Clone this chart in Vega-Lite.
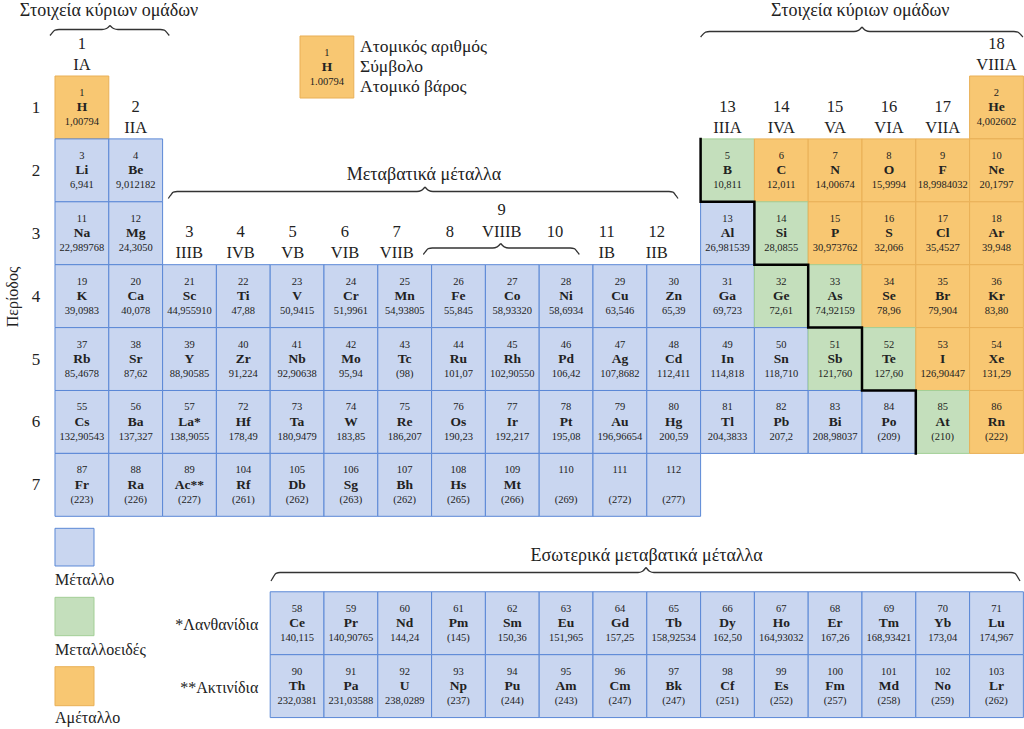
{
  "$schema": "https://vega.github.io/schema/vega-lite/v6.json",
  "width": 1024,
  "height": 729,
  "autosize": {"type": "none"},
  "padding": 0,
  "background": "white",
  "config": {"view": {"stroke": null}, "font": "Liberation Serif, DejaVu Serif, serif", "mark": {"font": "Liberation Serif, DejaVu Serif, serif"}, "text": {"font": "Liberation Serif, DejaVu Serif, serif", "color": "#222222"}},
  "datasets": {
    "elements": [
      {"n":1,"s":"H","w":"1,00794","col":1,"row":1,"cat":"nonmetal"},
      {"n":2,"s":"He","w":"4,002602","col":18,"row":1,"cat":"nonmetal"},
      {"n":3,"s":"Li","w":"6,941","col":1,"row":2,"cat":"metal"},
      {"n":4,"s":"Be","w":"9,012182","col":2,"row":2,"cat":"metal"},
      {"n":5,"s":"B","w":"10,811","col":13,"row":2,"cat":"metalloid"},
      {"n":6,"s":"C","w":"12,011","col":14,"row":2,"cat":"nonmetal"},
      {"n":7,"s":"N","w":"14,00674","col":15,"row":2,"cat":"nonmetal"},
      {"n":8,"s":"O","w":"15,9994","col":16,"row":2,"cat":"nonmetal"},
      {"n":9,"s":"F","w":"18,9984032","col":17,"row":2,"cat":"nonmetal"},
      {"n":10,"s":"Ne","w":"20,1797","col":18,"row":2,"cat":"nonmetal"},
      {"n":11,"s":"Na","w":"22,989768","col":1,"row":3,"cat":"metal"},
      {"n":12,"s":"Mg","w":"24,3050","col":2,"row":3,"cat":"metal"},
      {"n":13,"s":"Al","w":"26,981539","col":13,"row":3,"cat":"metal"},
      {"n":14,"s":"Si","w":"28,0855","col":14,"row":3,"cat":"metalloid"},
      {"n":15,"s":"P","w":"30,973762","col":15,"row":3,"cat":"nonmetal"},
      {"n":16,"s":"S","w":"32,066","col":16,"row":3,"cat":"nonmetal"},
      {"n":17,"s":"Cl","w":"35,4527","col":17,"row":3,"cat":"nonmetal"},
      {"n":18,"s":"Ar","w":"39,948","col":18,"row":3,"cat":"nonmetal"},
      {"n":19,"s":"K","w":"39,0983","col":1,"row":4,"cat":"metal"},
      {"n":20,"s":"Ca","w":"40,078","col":2,"row":4,"cat":"metal"},
      {"n":21,"s":"Sc","w":"44,955910","col":3,"row":4,"cat":"metal"},
      {"n":22,"s":"Ti","w":"47,88","col":4,"row":4,"cat":"metal"},
      {"n":23,"s":"V","w":"50,9415","col":5,"row":4,"cat":"metal"},
      {"n":24,"s":"Cr","w":"51,9961","col":6,"row":4,"cat":"metal"},
      {"n":25,"s":"Mn","w":"54,93805","col":7,"row":4,"cat":"metal"},
      {"n":26,"s":"Fe","w":"55,845","col":8,"row":4,"cat":"metal"},
      {"n":27,"s":"Co","w":"58,93320","col":9,"row":4,"cat":"metal"},
      {"n":28,"s":"Ni","w":"58,6934","col":10,"row":4,"cat":"metal"},
      {"n":29,"s":"Cu","w":"63,546","col":11,"row":4,"cat":"metal"},
      {"n":30,"s":"Zn","w":"65,39","col":12,"row":4,"cat":"metal"},
      {"n":31,"s":"Ga","w":"69,723","col":13,"row":4,"cat":"metal"},
      {"n":32,"s":"Ge","w":"72,61","col":14,"row":4,"cat":"metalloid"},
      {"n":33,"s":"As","w":"74,92159","col":15,"row":4,"cat":"metalloid"},
      {"n":34,"s":"Se","w":"78,96","col":16,"row":4,"cat":"nonmetal"},
      {"n":35,"s":"Br","w":"79,904","col":17,"row":4,"cat":"nonmetal"},
      {"n":36,"s":"Kr","w":"83,80","col":18,"row":4,"cat":"nonmetal"},
      {"n":37,"s":"Rb","w":"85,4678","col":1,"row":5,"cat":"metal"},
      {"n":38,"s":"Sr","w":"87,62","col":2,"row":5,"cat":"metal"},
      {"n":39,"s":"Y","w":"88,90585","col":3,"row":5,"cat":"metal"},
      {"n":40,"s":"Zr","w":"91,224","col":4,"row":5,"cat":"metal"},
      {"n":41,"s":"Nb","w":"92,90638","col":5,"row":5,"cat":"metal"},
      {"n":42,"s":"Mo","w":"95,94","col":6,"row":5,"cat":"metal"},
      {"n":43,"s":"Tc","w":"(98)","col":7,"row":5,"cat":"metal"},
      {"n":44,"s":"Ru","w":"101,07","col":8,"row":5,"cat":"metal"},
      {"n":45,"s":"Rh","w":"102,90550","col":9,"row":5,"cat":"metal"},
      {"n":46,"s":"Pd","w":"106,42","col":10,"row":5,"cat":"metal"},
      {"n":47,"s":"Ag","w":"107,8682","col":11,"row":5,"cat":"metal"},
      {"n":48,"s":"Cd","w":"112,411","col":12,"row":5,"cat":"metal"},
      {"n":49,"s":"In","w":"114,818","col":13,"row":5,"cat":"metal"},
      {"n":50,"s":"Sn","w":"118,710","col":14,"row":5,"cat":"metal"},
      {"n":51,"s":"Sb","w":"121,760","col":15,"row":5,"cat":"metalloid"},
      {"n":52,"s":"Te","w":"127,60","col":16,"row":5,"cat":"metalloid"},
      {"n":53,"s":"I","w":"126,90447","col":17,"row":5,"cat":"nonmetal"},
      {"n":54,"s":"Xe","w":"131,29","col":18,"row":5,"cat":"nonmetal"},
      {"n":55,"s":"Cs","w":"132,90543","col":1,"row":6,"cat":"metal"},
      {"n":56,"s":"Ba","w":"137,327","col":2,"row":6,"cat":"metal"},
      {"n":57,"s":"La*","w":"138,9055","col":3,"row":6,"cat":"metal"},
      {"n":72,"s":"Hf","w":"178,49","col":4,"row":6,"cat":"metal"},
      {"n":73,"s":"Ta","w":"180,9479","col":5,"row":6,"cat":"metal"},
      {"n":74,"s":"W","w":"183,85","col":6,"row":6,"cat":"metal"},
      {"n":75,"s":"Re","w":"186,207","col":7,"row":6,"cat":"metal"},
      {"n":76,"s":"Os","w":"190,23","col":8,"row":6,"cat":"metal"},
      {"n":77,"s":"Ir","w":"192,217","col":9,"row":6,"cat":"metal"},
      {"n":78,"s":"Pt","w":"195,08","col":10,"row":6,"cat":"metal"},
      {"n":79,"s":"Au","w":"196,96654","col":11,"row":6,"cat":"metal"},
      {"n":80,"s":"Hg","w":"200,59","col":12,"row":6,"cat":"metal"},
      {"n":81,"s":"Tl","w":"204,3833","col":13,"row":6,"cat":"metal"},
      {"n":82,"s":"Pb","w":"207,2","col":14,"row":6,"cat":"metal"},
      {"n":83,"s":"Bi","w":"208,98037","col":15,"row":6,"cat":"metal"},
      {"n":84,"s":"Po","w":"(209)","col":16,"row":6,"cat":"metal"},
      {"n":85,"s":"At","w":"(210)","col":17,"row":6,"cat":"metalloid"},
      {"n":86,"s":"Rn","w":"(222)","col":18,"row":6,"cat":"nonmetal"},
      {"n":87,"s":"Fr","w":"(223)","col":1,"row":7,"cat":"metal"},
      {"n":88,"s":"Ra","w":"(226)","col":2,"row":7,"cat":"metal"},
      {"n":89,"s":"Ac**","w":"(227)","col":3,"row":7,"cat":"metal"},
      {"n":104,"s":"Rf","w":"(261)","col":4,"row":7,"cat":"metal"},
      {"n":105,"s":"Db","w":"(262)","col":5,"row":7,"cat":"metal"},
      {"n":106,"s":"Sg","w":"(263)","col":6,"row":7,"cat":"metal"},
      {"n":107,"s":"Bh","w":"(262)","col":7,"row":7,"cat":"metal"},
      {"n":108,"s":"Hs","w":"(265)","col":8,"row":7,"cat":"metal"},
      {"n":109,"s":"Mt","w":"(266)","col":9,"row":7,"cat":"metal"},
      {"n":110,"s":"","w":"(269)","col":10,"row":7,"cat":"metal"},
      {"n":111,"s":"","w":"(272)","col":11,"row":7,"cat":"metal"},
      {"n":112,"s":"","w":"(277)","col":12,"row":7,"cat":"metal"},
      {"n":58,"s":"Ce","w":"140,115","col":5,"row":8,"cat":"metal"},
      {"n":59,"s":"Pr","w":"140,90765","col":6,"row":8,"cat":"metal"},
      {"n":60,"s":"Nd","w":"144,24","col":7,"row":8,"cat":"metal"},
      {"n":61,"s":"Pm","w":"(145)","col":8,"row":8,"cat":"metal"},
      {"n":62,"s":"Sm","w":"150,36","col":9,"row":8,"cat":"metal"},
      {"n":63,"s":"Eu","w":"151,965","col":10,"row":8,"cat":"metal"},
      {"n":64,"s":"Gd","w":"157,25","col":11,"row":8,"cat":"metal"},
      {"n":65,"s":"Tb","w":"158,92534","col":12,"row":8,"cat":"metal"},
      {"n":66,"s":"Dy","w":"162,50","col":13,"row":8,"cat":"metal"},
      {"n":67,"s":"Ho","w":"164,93032","col":14,"row":8,"cat":"metal"},
      {"n":68,"s":"Er","w":"167,26","col":15,"row":8,"cat":"metal"},
      {"n":69,"s":"Tm","w":"168,93421","col":16,"row":8,"cat":"metal"},
      {"n":70,"s":"Yb","w":"173,04","col":17,"row":8,"cat":"metal"},
      {"n":71,"s":"Lu","w":"174,967","col":18,"row":8,"cat":"metal"},
      {"n":90,"s":"Th","w":"232,0381","col":5,"row":9,"cat":"metal"},
      {"n":91,"s":"Pa","w":"231,03588","col":6,"row":9,"cat":"metal"},
      {"n":92,"s":"U","w":"238,0289","col":7,"row":9,"cat":"metal"},
      {"n":93,"s":"Np","w":"(237)","col":8,"row":9,"cat":"metal"},
      {"n":94,"s":"Pu","w":"(244)","col":9,"row":9,"cat":"metal"},
      {"n":95,"s":"Am","w":"(243)","col":10,"row":9,"cat":"metal"},
      {"n":96,"s":"Cm","w":"(247)","col":11,"row":9,"cat":"metal"},
      {"n":97,"s":"Bk","w":"(247)","col":12,"row":9,"cat":"metal"},
      {"n":98,"s":"Cf","w":"(251)","col":13,"row":9,"cat":"metal"},
      {"n":99,"s":"Es","w":"(252)","col":14,"row":9,"cat":"metal"},
      {"n":100,"s":"Fm","w":"(257)","col":15,"row":9,"cat":"metal"},
      {"n":101,"s":"Md","w":"(258)","col":16,"row":9,"cat":"metal"},
      {"n":102,"s":"No","w":"(259)","col":17,"row":9,"cat":"metal"},
      {"n":103,"s":"Lr","w":"(262)","col":18,"row":9,"cat":"metal"}
    ],
    "key": [
      {"n":1,"s":"H","w":"1.00794","col":5.554,"row":0.357,"cat":"nonmetal"}
    ],
    "legendboxes": [
      {"cat":"metal","x0":0.5,"x1":1.225,"y0":7.691,"y1":8.29},
      {"cat":"metalloid","x0":0.5,"x1":1.225,"y0":8.788,"y1":9.398},
      {"cat":"nonmetal","x0":0.5,"x1":1.225,"y0":9.891,"y1":10.511}
    ],
    "stair": [
      {"i":0,"x":12.5,"y":1.5},{"i":1,"x":12.5,"y":2.5},{"i":2,"x":13.5,"y":2.5},{"i":3,"x":13.5,"y":3.5},
      {"i":4,"x":14.5,"y":3.5},{"i":5,"x":14.5,"y":4.5},{"i":6,"x":15.5,"y":4.5},{"i":7,"x":15.5,"y":5.5},
      {"i":8,"x":16.5,"y":5.5},{"i":9,"x":16.5,"y":6.5}
    ],
    "braces": [
      {"b":"A1","i":0,"x":0.4071,"y":-0.1439},{"b":"A1","i":1,"x":0.4443,"y":-0.1821},{"b":"A1","i":2,"x":0.5,"y":-0.2298},{"b":"A1","i":3,"x":0.5744,"y":-0.2393},{"b":"A1","i":4,"x":1.3736,"y":-0.2393},{"b":"A1","i":5,"x":1.4572,"y":-0.2552},{"b":"A1","i":6,"x":1.5223,"y":-0.3029},
      {"b":"A2","i":0,"x":1.5223,"y":-0.3029},{"b":"A2","i":1,"x":1.5874,"y":-0.2552},{"b":"A2","i":2,"x":1.671,"y":-0.2393},{"b":"A2","i":3,"x":2.4572,"y":-0.2393},{"b":"A2","i":4,"x":2.5316,"y":-0.2298},{"b":"A2","i":5,"x":2.5873,"y":-0.1821},{"b":"A2","i":6,"x":2.6245,"y":-0.1439},
      {"b":"B1","i":0,"x":12.5,"y":-0.12},{"b":"B1","i":1,"x":12.5372,"y":-0.155},{"b":"B1","i":2,"x":12.5929,"y":-0.1987},{"b":"B1","i":3,"x":12.6673,"y":-0.2075},{"b":"B1","i":4,"x":15.3513,"y":-0.2075},{"b":"B1","i":5,"x":15.4349,"y":-0.2254},{"b":"B1","i":6,"x":15.5,"y":-0.279},
      {"b":"B2","i":0,"x":15.5,"y":-0.279},{"b":"B2","i":1,"x":15.5651,"y":-0.2254},{"b":"B2","i":2,"x":15.6487,"y":-0.2075},{"b":"B2","i":3,"x":18.3227,"y":-0.2075},{"b":"B2","i":4,"x":18.3971,"y":-0.1987},{"b":"B2","i":5,"x":18.4528,"y":-0.155},{"b":"B2","i":6,"x":18.49,"y":-0.12},
      {"b":"C1","i":0,"x":2.6059,"y":2.4475},{"b":"C1","i":1,"x":2.6431,"y":2.403},{"b":"C1","i":2,"x":2.6988,"y":2.3473},{"b":"C1","i":3,"x":2.7732,"y":2.3362},{"b":"C1","i":4,"x":7.2286,"y":2.3362},{"b":"C1","i":5,"x":7.3122,"y":2.3183},{"b":"C1","i":6,"x":7.3773,"y":2.2647},
      {"b":"C2","i":0,"x":7.3773,"y":2.2647},{"b":"C2","i":1,"x":7.4424,"y":2.3183},{"b":"C2","i":2,"x":7.526,"y":2.3362},{"b":"C2","i":3,"x":11.9126,"y":2.3362},{"b":"C2","i":4,"x":11.987,"y":2.3473},{"b":"C2","i":5,"x":12.0427,"y":2.403},{"b":"C2","i":6,"x":12.0799,"y":2.4475},
      {"b":"D1","i":0,"x":7.3457,"y":3.3378},{"b":"D1","i":1,"x":7.3829,"y":3.2965},{"b":"D1","i":2,"x":7.4386,"y":3.2448},{"b":"D1","i":3,"x":7.513,"y":3.2345},{"b":"D1","i":4,"x":8.6357,"y":3.2345},{"b":"D1","i":5,"x":8.7193,"y":3.2166},{"b":"D1","i":6,"x":8.7844,"y":3.163},
      {"b":"D2","i":0,"x":8.7844,"y":3.163},{"b":"D2","i":1,"x":8.8495,"y":3.2166},{"b":"D2","i":2,"x":8.9331,"y":3.2345},{"b":"D2","i":3,"x":10.0781,"y":3.2345},{"b":"D2","i":4,"x":10.1525,"y":3.2448},{"b":"D2","i":5,"x":10.2082,"y":3.2965},{"b":"D2","i":6,"x":10.2454,"y":3.3378},
      {"b":"E1","i":0,"x":4.5149,"y":8.5286},{"b":"E1","i":1,"x":4.5521,"y":8.4746},{"b":"E1","i":2,"x":4.6078,"y":8.407},{"b":"E1","i":3,"x":4.6822,"y":8.3935},{"b":"E1","i":4,"x":11.3364,"y":8.3935},{"b":"E1","i":5,"x":11.42,"y":8.3736},{"b":"E1","i":6,"x":11.4851,"y":8.314},
      {"b":"E2","i":0,"x":11.4851,"y":8.314},{"b":"E2","i":1,"x":11.5502,"y":8.3736},{"b":"E2","i":2,"x":11.6338,"y":8.3935},{"b":"E2","i":3,"x":18.2695,"y":8.3935},{"b":"E2","i":4,"x":18.3439,"y":8.407},{"b":"E2","i":5,"x":18.3996,"y":8.4746},{"b":"E2","i":6,"x":18.4368,"y":8.5286}
    ],
    "ann": [
      {"t":"Στοιχεία κύριων ομάδων","x":1.504,"y":-0.446,"k":"title"},
      {"t":"Στοιχεία κύριων ομάδων","x":15.468,"y":-0.446,"k":"title"},
      {"t":"Μεταβατικά μέταλλα","x":7.359,"y":2.161,"k":"title"},
      {"t":"Εσωτερικά μεταβατικά μέταλλα","x":11.498,"y":8.203,"k":"title"},
      {"t":"1","x":1,"y":0.076,"k":"group"},{"t":"IA","x":1,"y":0.405,"k":"group"},
      {"t":"2","x":2,"y":1.072,"k":"group"},{"t":"IIA","x":2,"y":1.406,"k":"group"},
      {"t":"13","x":13,"y":1.072,"k":"group"},{"t":"IIIA","x":13,"y":1.406,"k":"group"},
      {"t":"14","x":14,"y":1.072,"k":"group"},{"t":"IVA","x":14,"y":1.406,"k":"group"},
      {"t":"15","x":15,"y":1.072,"k":"group"},{"t":"VA","x":15,"y":1.406,"k":"group"},
      {"t":"16","x":16,"y":1.072,"k":"group"},{"t":"VIA","x":16,"y":1.406,"k":"group"},
      {"t":"17","x":17,"y":1.072,"k":"group"},{"t":"VIIA","x":17,"y":1.406,"k":"group"},
      {"t":"18","x":18,"y":0.076,"k":"group"},{"t":"VIIIA","x":18,"y":0.405,"k":"group"},
      {"t":"3","x":2.996,"y":3.064,"k":"group"},{"t":"IIIB","x":2.996,"y":3.398,"k":"group"},
      {"t":"4","x":3.95,"y":3.064,"k":"group"},{"t":"IVB","x":3.95,"y":3.398,"k":"group"},
      {"t":"5","x":4.918,"y":3.064,"k":"group"},{"t":"VB","x":4.918,"y":3.398,"k":"group"},
      {"t":"6","x":5.89,"y":3.064,"k":"group"},{"t":"VIB","x":5.89,"y":3.398,"k":"group"},
      {"t":"7","x":6.851,"y":3.064,"k":"group"},{"t":"VIIB","x":6.851,"y":3.398,"k":"group"},
      {"t":"8","x":7.842,"y":3.064,"k":"group"},
      {"t":"9","x":8.803,"y":2.71,"k":"group"},{"t":"VIIIB","x":8.803,"y":3.064,"k":"group"},
      {"t":"10","x":9.794,"y":3.064,"k":"group"},
      {"t":"11","x":10.755,"y":3.064,"k":"group"},{"t":"IB","x":10.755,"y":3.398,"k":"group"},
      {"t":"12","x":11.684,"y":3.064,"k":"group"},{"t":"IIB","x":11.684,"y":3.398,"k":"group"},
      {"t":"1","x":0.147,"y":1.087,"k":"period"},{"t":"2","x":0.147,"y":2.087,"k":"period"},
      {"t":"3","x":0.147,"y":3.087,"k":"period"},{"t":"4","x":0.147,"y":4.087,"k":"period"},
      {"t":"5","x":0.147,"y":5.087,"k":"period"},{"t":"6","x":0.147,"y":6.087,"k":"period"},
      {"t":"7","x":0.147,"y":7.087,"k":"period"},
      {"t":"Μέταλλο","x":0.5,"y":8.592,"k":"legend"},
      {"t":"Μεταλλοειδές","x":0.5,"y":9.705,"k":"legend"},
      {"t":"Αμέταλλο","x":0.5,"y":10.791,"k":"legend"},
      {"t":"*Λανθανίδια","x":4.279,"y":9.308,"k":"series"},
      {"t":"**Ακτινίδια","x":4.279,"y":10.305,"k":"series"},
      {"t":"Ατομικός αριθμός","x":6.169,"y":0.126,"k":"key"},
      {"t":"Σύμβολο","x":6.169,"y":0.436,"k":"key"},
      {"t":"Ατομικό βάρος","x":6.169,"y":0.762,"k":"key"},
      {"t":"Περίοδος","x":-0.281,"y":4.0135,"k":"axis"}
    ]
  },
  "layer": [
    {
      "data": {"name": "elements"},
      "transform": [
        {"calculate": "datum.row > 7 ? datum.row + 1.2 : datum.row", "as": "yc"},
        {"calculate": "datum.col - 0.5", "as": "x0"},
        {"calculate": "datum.col + 0.5", "as": "x1"},
        {"calculate": "datum.yc - 0.5", "as": "y0"},
        {"calculate": "datum.yc + 0.5", "as": "y1"}
      ],
      "layer": [
        {
          "mark": {"type": "rect", "strokeWidth": 1},
          "encoding": {
            "x": {"field": "x0", "type": "quantitative", "scale": {"domain": [-0.5223, 18.5112], "nice": false, "zero": false}, "axis": null},
            "x2": {"field": "x1"},
            "y": {"field": "y0", "type": "quantitative", "scale": {"domain": [-0.7083, 10.8816], "nice": false, "zero": false, "reverse": true}, "axis": null},
            "y2": {"field": "y1"},
            "fill": {"field": "cat", "type": "nominal", "scale": {"domain": ["metal", "metalloid", "nonmetal"], "range": ["#c9d6f0", "#c4dfbc", "#f8c772"]}, "legend": null},
            "stroke": {"field": "cat", "type": "nominal", "scale": {"domain": ["metal", "metalloid", "nonmetal"], "range": ["#5b88d6", "#a3cf96", "#e9b057"]}, "legend": null}
          }
        },
        {
          "mark": {"type": "text", "font": "Liberation Serif, DejaVu Serif, serif", "fontSize": 10.5, "baseline": "alphabetic", "dy": -11.5},
          "encoding": {
            "x": {"field": "col", "type": "quantitative"},
            "y": {"field": "yc", "type": "quantitative"},
            "text": {"field": "n", "type": "nominal"}
          }
        },
        {
          "mark": {"type": "text", "font": "Liberation Serif, DejaVu Serif, serif", "fontSize": 13.5, "fontWeight": "bold", "baseline": "alphabetic", "dy": 4},
          "encoding": {
            "x": {"field": "col", "type": "quantitative"},
            "y": {"field": "yc", "type": "quantitative"},
            "text": {"field": "s", "type": "nominal"}
          }
        },
        {
          "mark": {"type": "text", "font": "Liberation Serif, DejaVu Serif, serif", "fontSize": 10.5, "baseline": "alphabetic", "dy": 18},
          "encoding": {
            "x": {"field": "col", "type": "quantitative"},
            "y": {"field": "yc", "type": "quantitative"},
            "text": {"field": "w", "type": "nominal"}
          }
        }
      ]
    },
    {
      "data": {"name": "key"},
      "transform": [
        {"calculate": "datum.col - 0.5", "as": "x0"},
        {"calculate": "datum.col + 0.5", "as": "x1"},
        {"calculate": "datum.row - 0.493", "as": "y0"},
        {"calculate": "datum.row + 0.493", "as": "y1"}
      ],
      "layer": [
        {
          "mark": {"type": "rect", "strokeWidth": 1},
          "encoding": {
            "x": {"field": "x0", "type": "quantitative"},
            "x2": {"field": "x1"},
            "y": {"field": "y0", "type": "quantitative"},
            "y2": {"field": "y1"},
            "fill": {"field": "cat", "type": "nominal", "legend": null},
            "stroke": {"field": "cat", "type": "nominal", "legend": null}
          }
        },
        {
          "mark": {"type": "text", "font": "Liberation Serif, DejaVu Serif, serif", "fontSize": 10.5, "baseline": "alphabetic", "dy": -11.5},
          "encoding": {"x": {"field": "col", "type": "quantitative"}, "y": {"field": "row", "type": "quantitative"}, "text": {"field": "n", "type": "nominal"}}
        },
        {
          "mark": {"type": "text", "font": "Liberation Serif, DejaVu Serif, serif", "fontSize": 13.5, "fontWeight": "bold", "baseline": "alphabetic", "dy": 4},
          "encoding": {"x": {"field": "col", "type": "quantitative"}, "y": {"field": "row", "type": "quantitative"}, "text": {"field": "s", "type": "nominal"}}
        },
        {
          "mark": {"type": "text", "font": "Liberation Serif, DejaVu Serif, serif", "fontSize": 10.5, "baseline": "alphabetic", "dy": 18},
          "encoding": {"x": {"field": "col", "type": "quantitative"}, "y": {"field": "row", "type": "quantitative"}, "text": {"field": "w", "type": "nominal"}}
        }
      ]
    },
    {
      "data": {"name": "legendboxes"},
      "mark": {"type": "rect", "strokeWidth": 1},
      "encoding": {
        "x": {"field": "x0", "type": "quantitative"},
        "x2": {"field": "x1"},
        "y": {"field": "y0", "type": "quantitative"},
        "y2": {"field": "y1"},
        "fill": {"field": "cat", "type": "nominal", "legend": null},
        "stroke": {"field": "cat", "type": "nominal", "legend": null}
      }
    },
    {
      "data": {"name": "stair"},
      "mark": {"type": "line", "color": "#000000", "strokeWidth": 2.5, "strokeJoin": "miter", "strokeCap": "square"},
      "encoding": {
        "x": {"field": "x", "type": "quantitative"},
        "y": {"field": "y", "type": "quantitative"},
        "order": {"field": "i", "type": "quantitative"}
      }
    },
    {
      "data": {"name": "braces"},
      "mark": {"type": "line", "color": "#333333", "strokeWidth": 1.3, "interpolate": "monotone"},
      "encoding": {
        "x": {"field": "x", "type": "quantitative"},
        "y": {"field": "y", "type": "quantitative"},
        "detail": {"field": "b", "type": "nominal"},
        "order": {"field": "i", "type": "quantitative"}
      }
    },
    {
      "data": {"name": "ann"},
      "layer": [
        {
          "transform": [{"filter": "datum.k == 'title'"}],
          "mark": {"type": "text", "font": "Liberation Serif, DejaVu Serif, serif", "fontSize": 18, "baseline": "alphabetic", "align": "center"},
          "encoding": {"x": {"field": "x", "type": "quantitative"}, "y": {"field": "y", "type": "quantitative"}, "text": {"field": "t", "type": "nominal"}}
        },
        {
          "transform": [{"filter": "datum.k == 'group'"}],
          "mark": {"type": "text", "font": "Liberation Serif, DejaVu Serif, serif", "fontSize": 16.5, "baseline": "alphabetic", "align": "center"},
          "encoding": {"x": {"field": "x", "type": "quantitative"}, "y": {"field": "y", "type": "quantitative"}, "text": {"field": "t", "type": "nominal"}}
        },
        {
          "transform": [{"filter": "datum.k == 'period'"}],
          "mark": {"type": "text", "font": "Liberation Serif, DejaVu Serif, serif", "fontSize": 17, "baseline": "alphabetic", "align": "center"},
          "encoding": {"x": {"field": "x", "type": "quantitative"}, "y": {"field": "y", "type": "quantitative"}, "text": {"field": "t", "type": "nominal"}}
        },
        {
          "transform": [{"filter": "datum.k == 'legend'"}],
          "mark": {"type": "text", "font": "Liberation Serif, DejaVu Serif, serif", "fontSize": 16, "baseline": "alphabetic", "align": "left"},
          "encoding": {"x": {"field": "x", "type": "quantitative"}, "y": {"field": "y", "type": "quantitative"}, "text": {"field": "t", "type": "nominal"}}
        },
        {
          "transform": [{"filter": "datum.k == 'series'"}],
          "mark": {"type": "text", "font": "Liberation Serif, DejaVu Serif, serif", "fontSize": 16, "baseline": "alphabetic", "align": "right"},
          "encoding": {"x": {"field": "x", "type": "quantitative"}, "y": {"field": "y", "type": "quantitative"}, "text": {"field": "t", "type": "nominal"}}
        },
        {
          "transform": [{"filter": "datum.k == 'key'"}],
          "mark": {"type": "text", "font": "Liberation Serif, DejaVu Serif, serif", "fontSize": 17.5, "baseline": "alphabetic", "align": "left"},
          "encoding": {"x": {"field": "x", "type": "quantitative"}, "y": {"field": "y", "type": "quantitative"}, "text": {"field": "t", "type": "nominal"}}
        },
        {
          "transform": [{"filter": "datum.k == 'axis'"}],
          "mark": {"type": "text", "font": "Liberation Serif, DejaVu Serif, serif", "fontSize": 16, "baseline": "middle", "align": "center", "angle": 270},
          "encoding": {"x": {"field": "x", "type": "quantitative"}, "y": {"field": "y", "type": "quantitative"}, "text": {"field": "t", "type": "nominal"}}
        }
      ]
    }
  ]
}
